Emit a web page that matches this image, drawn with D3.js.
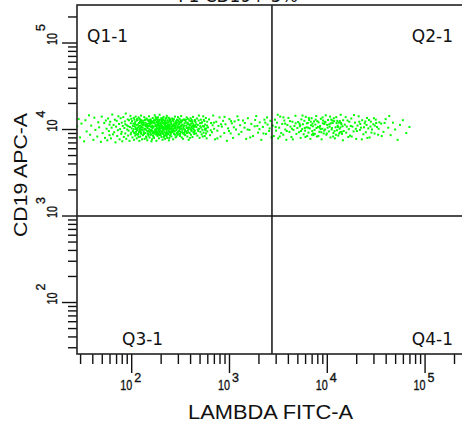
<!DOCTYPE html>
<html><head><meta charset="utf-8">
<script src="https://cdn.jsdelivr.net/npm/d3@7"></script>
<style>html,body{margin:0;padding:0;background:#fff;} svg{display:block;}</style>
</head><body>
<script>
const plotTitle = "P1 CD19+ 5%";
const xTitle = "LAMBDA FITC-A";
const yTitle = "CD19 APC-A";
const xDomain = [27.9, 262144];
const yDomain = [25.4, 275000];
const labelledPowers = [2, 3, 4, 5];
const quadrantX = 2750;
const quadrantY = 1000;
const quadrantNames = ["Q1-1", "Q2-1", "Q3-1", "Q4-1"];

// events left of the vertical gate (LAMBDA negative)
const lowLambdaEvents = [
[28,10900],[29,13200],[30,8100],[31,11700],[33,7300],[34,12800],[35,9500],[37,14600],[38,8700],[39,11100],[41,7600],[42,13700],[43,9900],[45,8300],[46,12100],[47,10600],[49,7200],[50,14100],[51,9100],[53,11900],[54,8000],[55,12700],[56,10200],[57,7500],[58,13400],[59,9600],[60,11400],[60,8600],
[61,12300],[62,7900],[63,10500],[64,14900],[65,8800],[66,11300],[67,9300],[68,13000],[69,7100],[70,10800],[71,12600],[72,8400],[73,9800],[74,14200],[75,11600],[76,7700],[77,10100],[78,13500],[79,8900],[80,12000],[80,9400],[81,7300],[82,11000],[83,13900],[84,8200],[85,10400],[86,12400],[87,9000],[88,15300],[89,7800],[90,11200],[91,10000],[92,13100],[93,8500],[94,9700],[95,12800],[96,7400],[97,10700],[98,14400],[99,8800],[99,11800],[100,9200],[100,13300],[87,11500],[93,10900],
[101,10300],[102,12500],[103,8100],[104,9600],[105,11700],[106,13600],[107,7600],[108,10900],[109,9000],[110,12200],[110,8500],[111,14100],[112,10100],[113,11300],[114,7900],[115,9800],[116,12900],[117,8700],[118,10600],[119,13800],[120,9300],[120,11900],[121,7400],[122,10000],[123,12400],[124,8300],[125,9500],[125,11100],[126,14500],[127,8900],[128,10700],[128,12700],[129,7700],[130,9900],[130,11500],[104,11000],[107,9200],[111,10600],[114,12700],[117,11400],[119,8200],[122,13300],[124,10400],[126,9100],[129,12100],[113,8800],[116,10300],[121,9700],[127,11800],[108,13000],
[131,10500],[132,8600],[133,12600],[134,9400],[135,11200],[136,13900],[137,7800],[138,10200],[139,9100],[140,12000],[141,10900],[142,8300],[143,13400],[144,9700],[145,11600],[146,7500],[147,10400],[148,12800],[149,8900],[150,11000],[151,9600],[152,14200],[153,10100],[154,8100],[155,12300],[156,9300],[157,11400],[158,13100],[159,8700],[160,10700],[161,9900],[162,12500],[163,7700],[164,11100],[165,10300],[166,13600],[167,8500],[168,9500],[169,12100],[170,10800],[171,8000],[172,11800],[173,9200],[174,14600],[175,10000],[176,12700],[177,8800],[178,11300],[179,9800],[180,13200],[181,7400],[182,10600],[183,12200],[184,9000],[185,11500],[186,8400],[187,10200],[188,13800],[189,9600],[190,11900],[191,10500],[192,7900],[193,12400],[194,9400],[195,11000],[196,13000],[197,8600],[198,10900],[199,9700],[200,12000],
[134,11900],[139,13000],[143,8000],[147,9000],[152,11700],[156,12900],[161,7300],[166,10900],[170,9000],[174,11900],[178,13900],[182,8700],[187,12600],[191,9000],[195,14800],[199,10300],[136,10000],[158,9800],[181,11000],[193,10000],
[201,9100],[202,11400],[203,13500],[204,8200],[205,10400],[206,12300],[207,9500],[208,11100],[209,7600],[210,10000],[211,12900],[212,8900],[213,10700],[214,14000],[215,9800],[216,11700],[217,8400],[218,10200],[219,12600],[220,9300],[221,11300],[222,7800],[223,10800],[224,13300],[225,9000],[226,11900],[227,10100],[228,8600],[229,12100],[230,9600],[231,14400],[232,10500],[233,8000],[234,11500],[235,9200],[236,12800],[237,10300],[238,8800],[239,11000],[240,13700],[241,9700],[242,10600],[243,7500],[244,12400],[245,9400],[246,11200],[247,10000],[248,13100],[249,8500],[250,10900],[252,12000],[254,9100],[256,11600],[258,8300],[260,10400],[262,13400],[264,9900],[266,11000],[268,7700],[270,12500],[272,10200],[274,8900],[276,11800],[278,9500],[280,14100],[282,10700],[284,8100],[286,12200],[288,9800],[290,11400],[292,10000],[294,13000],[296,8700],[298,11100],[300,9300],
[205,13000],[215,8100],[225,12700],[235,10700],[245,8000],[255,10100],[265,12900],[275,9600],[285,10400],[295,12000],[210,11800],[230,11000],[250,9400],[270,9600],[290,8300],
[302,12700],[304,10500],[306,8800],[308,11500],[310,9700],[312,13300],[314,10100],[316,8400],[318,12100],[320,9400],[322,11000],[324,14300],[326,10300],[328,8100],[330,12500],[333,9900],[336,11300],[339,7800],[342,10700],[345,13100],[348,9200],[351,11800],[354,10000],[357,8600],[360,12300],[363,9500],[366,11100],[369,13800],[372,10400],[375,8300],[378,12000],[381,9800],[384,11500],[387,7600],[390,10600],[393,12800],[396,9100],[399,11200],[402,10100],[405,13500],[408,8700],[411,11700],[414,9600],[417,10900],[420,12400],[423,8200],[426,10300],[429,14000],[432,9300],[435,11400],[438,10000],[441,8900],[444,12600],[447,9700],[450,11000],
[310,11800],[325,12000],[340,9000],[355,12900],[370,9100],[385,10300],[400,8000],[415,12900],[430,11000],[445,10800],[320,10800],[350,8800],[380,13300],[410,10500],[440,9400],
[455,12200],[460,9000],[465,10700],[470,13400],[475,8500],[480,11300],[485,9600],[490,12700],[495,10200],[500,8000],[505,11800],[510,9400],[515,13000],[520,10500],[525,8800],[530,12100],[535,9900],[540,11000],[545,14200],[550,9200],[555,10800],[560,12500],[565,8400],[570,11400],[575,9800],[580,13600],[585,10300],[590,7900],[595,11100],[600,9500],
[462,11500],[478,10000],[492,14500],[508,10900],[522,11900],[538,8300],[552,12900],[568,10100],[582,9000],[598,12300],
[106,10100],[109,11600],[112,9400],[115,13200],[118,8900],[121,11000],[124,12200],[127,10000],[132,11300],[135,8900],[138,12900],[141,10000],[144,11200],[146,13100],[149,9500],[151,12400],[154,10900],[157,8800],[159,11900],[162,9600],[165,12000],[167,10600],[169,8200],[172,13000],[175,9400],[177,11000],[180,10100],[183,13400],[185,9300],[188,11100],[190,8700],[192,12800],[195,10200],[198,11600],[201,8700],[204,12700],[207,10600],[210,9300],[213,12000],[216,10400],[219,8600],[222,11600],[225,10500],[228,13600],[231,9100],[234,10200],[237,12100],[240,9000],[243,11400],[246,13400],[249,10300],[253,8800],[257,12300],[261,10900],[265,9300],[269,11400],[273,13200],[277,10400],[281,8700],[285,11700],[289,12600],[293,9100],[297,10700],[301,13900],[305,9500],[309,12300],[313,10700],[317,8900],[321,12800],[327,11200],[332,9300],[337,12800],[343,10200],[349,11100],[356,9600],[362,13000],[368,10600],[374,11800],[383,9300],[392,11400],[401,12500],[412,9900],[424,11800],[436,10700],[448,12900],
[140,11400],[160,12200],[180,9300],[200,10800],[220,12000],[240,10900],[260,9500],[280,11200],[300,10500],[150,8500],[170,12600],[190,11400],[210,13500],[230,8400],[250,12800],[270,11000],[125,12900],[145,10800],[165,9100],[185,13000],
[610,10600],[625,13100],[640,8600],[655,11900],[670,9300],[690,14500],[705,10200],[720,7700],[740,12300],[760,9700],[780,11000],[800,13800],[820,8300],[845,10800],[870,12600],[895,9100],[920,11500],[950,7400],[980,10300],[1010,13200],[1040,9000],[1070,11800],[1100,8000],[1140,12400],[1180,10000],[1220,14200],[1260,8800],[1300,11200],
[650,9800],[700,12000],[760,7900],[830,11500],[900,14000],[1000,9600],[1120,10600],[1250,12900],[680,11200],[1050,12500],
[1340,9400],[1390,12700],[1440,10500],[1500,7800],[1560,13500],[1620,9900],[1690,11600],[1760,8400],[1830,10900],[1900,14300],[1980,9200],[2060,12100],[2140,7600],[2220,10700],[2300,13000],[2390,8900],[2480,11400],[2570,9600],[2650,12600],[2720,8100],
[1450,11900],[1650,8100],[1850,12900],[2050,10100],[2250,9000],[2450,13800],[2600,10300],[1550,10000],[1950,11000],[2350,12000]
];

// events right of the vertical gate (LAMBDA positive)
const highLambdaEvents = [
[2800,11100],[2870,8400],[2950,13000],[3030,9700],[3100,12000],[3180,7900],[3260,10500],[3340,14100],[3420,9100],[3500,11600],[3590,8700],[3680,12700],[3770,10000],[3860,7600],[3950,11300],[4050,13600],[4150,9400],[4250,10800],[4350,8200],[4450,12300],[4560,9900],[4670,11000],[4780,14400],[4890,8900],[5000,10400],
[3000,10700],[3300,8300],[3600,13800],[3900,9600],[4200,12500],[4500,7700],[4800,11800],[3150,14800],[3750,11700],[4400,10200],
[5100,12200],[5200,9300],[5300,10900],[5400,8000],[5500,13100],[5600,10100],[5700,11500],[5800,8800],[5900,12600],[6000,9700],[6100,14000],[6200,10600],[6300,8400],[6400,11900],[6500,9200],[6600,12900],[6700,10300],[6800,7800],[6900,11200],[7000,13500],[7100,9600],[7200,10900],[7300,8600],[7400,12400],[7500,9900],[7650,11400],[7800,14300],[7950,8300],[8100,10700],[8250,12100],[8400,9400],[8550,11000],[8700,13300],[8850,7700],[9000,10200],[9150,12700],[9300,9000],[9450,11600],[9600,10000],[9750,14600],[9900,8700],[10100,11300],[10300,12900],[10500,9500],[10700,10800],[10900,8100],[11100,13000],[11300,10400],[11500,11900],[11700,9100],[11900,12500],[12100,7900],[12300,10600],[12500,13900],[12700,9800],[12900,11100],[13100,8500],[13300,12000],[13500,10200],[13700,9300],[13900,14800],[14100,11500],[14300,8900],[14500,10900],[14700,12800],[14900,9600],
[5250,11700],[5650,14500],[6050,8200],[6450,10500],[6850,12300],[7250,9000],[7700,13000],[8200,8400],[8650,10100],[9100,11800],[9550,12300],[10000,9000],[10600,11500],[11200,10000],[11800,13500],[12400,8700],[13000,10700],[13600,12500],[14200,9400],[5450,9600],[6250,11800],[7050,8700],[7850,10400],[8800,9300],[9700,12100],[10800,14100],[11600,8300],[12600,11900],[13800,10600],[14600,7500],
[5350,11200],[5950,10400],[6550,13600],[7150,11700],[7550,8900],[8000,12500],[8450,10500],[9050,13800],[9400,9700],[10200,10500],[11000,11800],[11400,12700],[12000,9600],[12800,12600],[13400,9000],[14000,11900],[16000,10800],[17000,12300],[19800,10200],[22000,11600],[24800,12400],[28000,10800],[31000,11100],
[15300,11400],[15800,9200],[16300,12700],[16800,10100],[17300,8500],[17800,13400],[18300,10800],[18800,9500],[19400,12000],[20000,7800],[20600,11100],[21200,14200],[21800,9900],[22400,10500],[23000,12800],[23700,8800],[24400,11800],[25100,9300],[25800,13600],[26600,10300],[27400,8100],[28200,12300],[29000,10000],[29900,11500],[30800,9000],[31700,13000],[32600,10700],[33500,8700],[34500,12100],
[15600,13900],[16600,8200],[17600,11000],[19000,14700],[20300,9600],[21500,12300],[22800,7700],[24000,10600],[25500,11300],[27000,12900],[28600,9200],[30300,13500],[32000,11900],[33900,10200],[18000,8300],[26000,8000],
[36000,11700],[38000,9400],[40000,13200],[42500,10500],[45000,8600],[47500,12000],[50000,10000],[53000,7600],[56000,11300],[60000,12800],[65000,9100],[70000,10700],[36500,8400],[43500,14300],[39000,11900]
];

const W = 462, H = 422;
const plotL = 77, plotR = 465.5, plotT = 5, plotB = 354;

const svg = d3.select("body").append("svg").attr("width", W).attr("height", H)
  .style("background", "#fff");

const x = d3.scaleLog().domain(xDomain).range([plotL, plotR]);
const y = d3.scaleLog().domain(yDomain).range([plotB, plotT]);

const isPow = v => Math.abs(Math.log10(v) - Math.round(Math.log10(v))) < 1e-9;
const xTicks = x.ticks(20).filter(v => v >= xDomain[0] && v <= xDomain[1]);
const yTicks = y.ticks(20).filter(v => v >= yDomain[0] && v <= yDomain[1]);

// events
const dot = 2;
const events = svg.append("g").attr("fill", "#00ff00");
events.selectAll("rect").data(lowLambdaEvents.concat(highLambdaEvents)).join("rect")
  .attr("x", d => x(d[0]) - dot / 2).attr("y", d => y(d[1]) - dot / 2)
  .attr("width", dot).attr("height", dot);

// x axis ticks (minor + major) through d3 axes
function styleAxis(g) {
  g.select(".domain").remove();
  g.selectAll("line").attr("stroke", "#111").attr("stroke-width", 1.4);
}
svg.append("g").attr("transform", `translate(0,${plotB})`)
  .call(d3.axisBottom(x).tickValues(xTicks.filter(v => !isPow(v))).tickSize(10).tickFormat(""))
  .call(styleAxis);
svg.append("g").attr("transform", `translate(0,${plotB})`)
  .call(d3.axisBottom(x).tickValues(xTicks.filter(isPow)).tickSize(19).tickFormat(""))
  .call(styleAxis);

// y axis ticks drawn from the y scale
svg.append("g").selectAll("line").data(yTicks).join("line")
  .attr("x1", plotL).attr("x2", d => plotL - (isPow(d) ? 15 : 9))
  .attr("y1", d => y(d)).attr("y2", d => y(d))
  .attr("stroke", "#111").attr("stroke-width", 1.4);

// tick labels 10^n
const labFont = "'Liberation Sans', Arial, sans-serif";
function styleLab(t) {
  t.attr("font-family", labFont).attr("fill", "#111").attr("stroke", "#111").attr("stroke-width", 0.35);
}
labelledPowers.forEach(p => {
  const v = Math.pow(10, p);
  const gx = svg.append("g").attr("transform", `translate(${x(v) + 1},390)`);
  gx.append("g").attr("transform", "scale(0.72,1)")
    .append("text").attr("text-anchor", "end").call(styleLab).attr("font-size", 15).text("10");
  gx.append("text").attr("x", 2).attr("y", -8).call(styleLab)
    .attr("font-size", 12.5).text(String(p));
  const gy = svg.append("g").attr("transform", `translate(57,${y(v) + 2}) rotate(-90)`);
  gy.append("g").attr("transform", "scale(0.72,1)")
    .append("text").call(styleLab).attr("font-size", 15).text("10");
  gy.append("text").attr("x", 14).attr("y", -12).call(styleLab)
    .attr("font-size", 12.5).text(String(p));
});

// quadrant lines
svg.append("line").attr("x1", x(quadrantX)).attr("x2", x(quadrantX))
  .attr("y1", plotT).attr("y2", plotB).attr("stroke", "#111").attr("stroke-width", 1.5);
svg.append("line").attr("x1", plotL).attr("x2", plotR)
  .attr("y1", y(quadrantY)).attr("y2", y(quadrantY)).attr("stroke", "#111").attr("stroke-width", 1.5);

// frame
svg.append("rect").attr("x", plotL).attr("y", plotT).attr("width", plotR - plotL).attr("height", plotB - plotT)
  .attr("fill", "none").attr("stroke", "#222").attr("stroke-width", 1.6);

// quadrant labels
const qFont = "'DejaVu Sans', Verdana, sans-serif";
const qPos = [
  {x: 87, y: 42, a: "start"}, {x: 453, y: 42, a: "end"},
  {x: 122, y: 345, a: "start"}, {x: 453, y: 345, a: "end"}
];
quadrantNames.forEach((n, i) => {
  svg.append("text").attr("x", qPos[i].x).attr("y", qPos[i].y).attr("text-anchor", qPos[i].a)
    .attr("font-family", qFont).attr("font-size", 17).attr("fill", "#111").text(n);
});

// titles
svg.append("text").attr("x", 270.5).attr("y", 419).attr("text-anchor", "middle")
  .attr("font-family", labFont).attr("font-size", 19.5).attr("textLength", 165)
  .attr("lengthAdjust", "spacingAndGlyphs").attr("fill", "#111").text(xTitle);
svg.append("text").attr("transform", "translate(27,175) rotate(-90)").attr("text-anchor", "middle")
  .attr("font-family", labFont).attr("font-size", 17.5).attr("textLength", 124)
  .attr("lengthAdjust", "spacingAndGlyphs").attr("fill", "#111").text(yTitle);
svg.append("text").attr("x", 238).attr("y", 2).attr("text-anchor", "middle")
  .attr("font-family", qFont).attr("font-size", 17).attr("fill", "#111").text(plotTitle);
</script>
</body></html>
